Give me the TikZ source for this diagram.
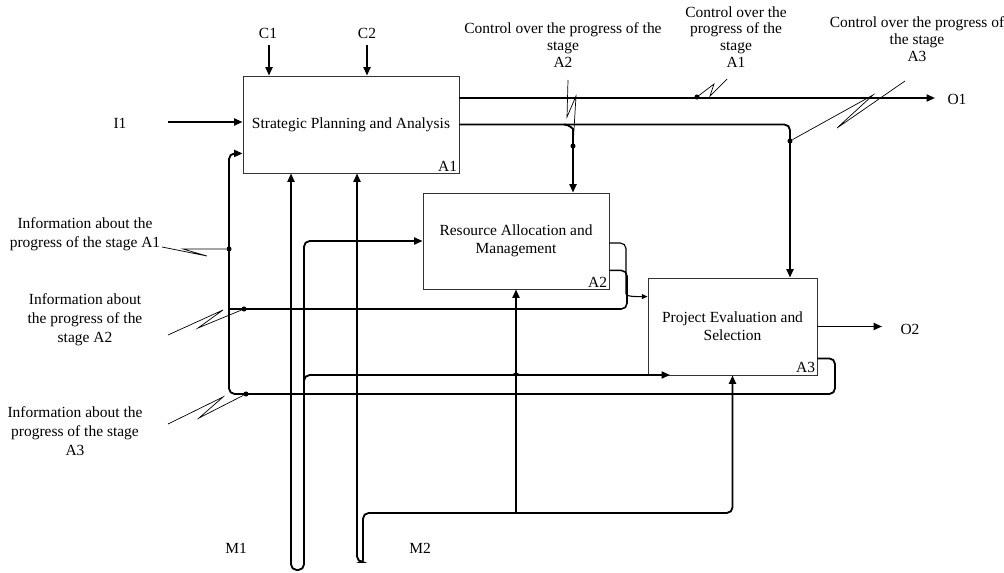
\documentclass[tikz,border=0pt]{standalone}
\usepackage{fontspec}
\setmainfont{Liberation Serif}
\usetikzlibrary{arrows.meta,calc}

\tikzset{
  >={Triangle[length=6pt,width=5pt]},
  func/.style={draw=black!80, line width=0.6pt, rectangle, inner sep=0pt,
    align=center, font=\fontsize{11}{13pt}\selectfont},
  fnum/.style={anchor=south east, inner sep=1.5pt, font=\fontsize{11}{12}\selectfont},
  conn/.style={line width=1.3pt, rounded corners=4pt, ->},
  fback/.style={line width=1.1pt, rounded corners=4pt},
  thinconn/.style={line width=0.8pt, rounded corners=4pt, -{Triangle[length=4pt,width=3.5pt]}},
  lead/.style={line width=0.5pt},
  lbl/.style={align=center, inner sep=0pt, font=\fontsize{11}{12pt}\selectfont},
  sidelbl/.style={align=center, inner sep=0pt, font=\fontsize{11}{13.5pt}\selectfont},
  dot/.style={circle, fill=black, inner sep=0pt, minimum size=3.6pt},
}

\begin{document}
\begin{tikzpicture}[x=0.025cm, y=-0.025cm]
  \useasboundingbox (0,0) rectangle (1004,572);
  % Các khối chức năng
  \node[func, minimum width=5.4cm, minimum height=2.425cm] (A1) at (351,124.5)
    {Strategic Planning and Analysis};
  \node[fnum] (A1num) at (A1.south east) {A1};
  \node[func, minimum width=4.65cm, minimum height=2.4cm] (A2) at (516,241)
    {Resource Allocation and\\Management};
  \node[fnum] (A2num) at (A2.south east) {A2};
  \node[func, minimum width=4.225cm, minimum height=2.425cm] (A3) at (732.5,326.5)
    {Project Evaluation and\\Selection};
  \node[fnum] (A3num) at (A3.south east) {A3};

  % Nhãn vào / ra / điều khiển / cơ chế
  \node[lbl] (C1) at (268,33) {C1};
  \node[lbl] (C2) at (367,33) {C2};
  \node[lbl] (I1) at (120,123) {I1};
  \node[lbl] (O1) at (957,99) {O1};
  \node[lbl] (O2) at (910,329) {O2};
  \node[lbl] (M1) at (236,548) {M1};
  \node[lbl] (M2) at (420,548) {M2};
  \node[lbl] (ctlA2) at (563,45) {Control over the progress of the\\stage\\A2};
  \node[lbl] (ctlA1) at (736,37) {Control over the\\progress of the\\stage\\A1};
  \node[lbl] (ctlA3) at (917,39) {Control over the progress of\\the stage\\A3};
  \node[sidelbl] (infA1) at (85,234) {Information about the\\progress of the stage A1};
  \node[sidelbl] (infA2) at (85,320) {Information about\\the progress of the\\stage A2};
  \node[sidelbl] (infA3) at (75,431) {Information about the\\progress of the stage\\A3};

  % Các điểm mốc
  \coordinate (C1top) at (269,45);
  \coordinate (C2top) at (367,45);
  \coordinate (I1in) at (168,122);
  \coordinate (O1end) at (935,98);
  \coordinate (O2end) at (882,326.5);
  \coordinate (M1L) at (291,570);
  \coordinate (M1R) at (304,570);
  \coordinate (M1br) at (304,392);
  \coordinate (M2bot) at (357,562);
  \coordinate (M2br) at (516,513);
  \coordinate (A3in) at (670,375);
  \coordinate (A2o1) at ($(A2.east)+(0,2)$);
  \coordinate (A2o2) at ($(A2.south east)+(0,-19)$);
  \coordinate (A3i1) at ($(A3.north west)+(0,19)$);
  \coordinate (A3o2) at ($(A3.south east)+(0,-17)$);
  \coordinate (A1i2) at ($(A1.south west)+(0,-20)$);
  \coordinate (FB2) at (229,309);
  \coordinate (FB3) at (229,394);

  % Điểm nối
  \node[dot] (dA1) at (229,249) {};
  \node[dot] (dA2) at (244,309) {};
  \node[dot] (dA3) at (246,394) {};
  \node[dot] (dc2) at (573,146) {};
  \node[dot] (dc1) at (697,97) {};
  \node[dot] (dc3) at (790,141) {};

  % Mũi tên chính
  \draw[conn] (C1top) -- (C1top |- A1.north);
  \draw[conn] (C2top) -- (C2top |- A1.north);
  \draw[conn] (I1in) -- (I1in -| A1.west);
  \draw[conn] (A1.east |- O1end) -- (O1end);
  \draw[conn] (A1.east) -| (dc3 |- A3.north);
  \draw[conn] ($(dc2 |- A1.east)+(-9,0)$) to[out=0,in=90] ++(9,10) -- (dc2 |- A2.north);
  \draw[conn] (A3.east) -- (O2end);

  % Cơ chế
  \draw[conn, <->] (M1L |- A1.south) -- (M1L) -- (M1R) |- (A2.west);
  \draw[conn] (M1br) |- ($(M2br |- A3in)+(-8,0)$) to[out=0,in=-90] ++(8,-6)
    to[out=-90,in=180] ++(8,6) -- (A3in);
  \draw[conn, <->] (M2bot |- A1.south) -- (M2bot) [rounded corners=1.5pt] -- ++(6,0)
    [rounded corners=4pt] -- ++(0,-49) -| (A3.south);
  \draw[conn] (M2br) -- (A2.south);

  % Đầu ra A2 và phản hồi
  \draw[thinconn] (A2o1) -- (626,243) -- (626,288) to[out=-90,in=180] (A3i1);
  \draw[fback] (A2o2) -| (627,309) -- (FB2);
  \draw[conn] (A3o2) -| (835,394) -- (FB3) |- (A1i2);

  % Đường chú thích
  \draw[lead] (162,247) -- (207,256) -- (183,249) -- (dA1);
  \draw[lead] (168,335) -- (223,310) -- (198,328) -- (dA2);
  \draw[lead] (168,424) -- (223,397) -- (199,418) -- (dA3);
  \draw[lead] (568,80) -- (567,117) -- (576,96) -- (dc2);
  \draw[lead] (dc1) -- (714,84) -- (710,96) -- (727,79);
  \draw[lead] (905,81) -- (837,128) -- (873,95) -- (dc3);
\end{tikzpicture}
\end{document}
